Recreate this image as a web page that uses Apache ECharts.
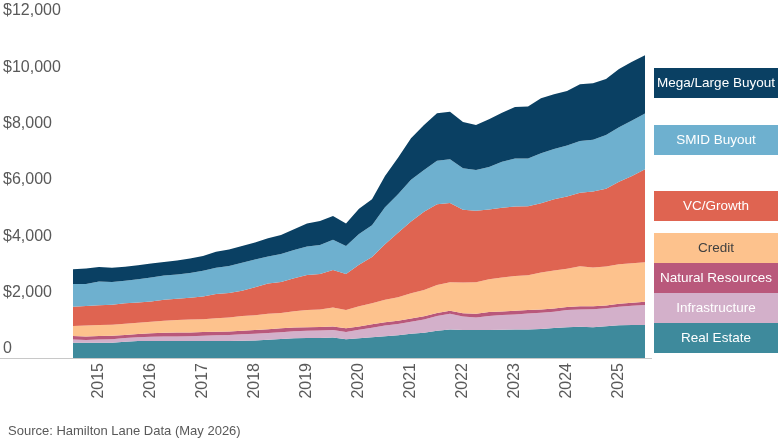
<!DOCTYPE html>
<html>
<head>
<meta charset="utf-8">
<script src="https://cdn.jsdelivr.net/npm/echarts@6/dist/echarts.min.js"></script>
<style>
  html, body { margin: 0; padding: 0; background: #fff; }
  #chart { width: 780px; height: 440px; }
</style>
</head>
<body>
<div id="chart"></div>
<script>
// quarters, Q4 2014 .. Q4 2025
var quarters = [];
for (var y = 2014; y <= 2025; y++) {
  for (var q = 1; q <= 4; q++) {
    if (y === 2014 && q < 4) continue;
    quarters.push('Q' + q + ' ' + y);
  }
}

var yTicks = [0, 2000, 4000, 6000, 8000, 10000, 12000];

// series values, US$ bn
var realEstate = [540,540,545,545,580,600,600,600,600,600,600,605,605,615,625,650,675,700,710,710,730,665,700,735,770,805,865,900,970,1015,995,995,995,1005,1015,1015,1030,1065,1090,1110,1090,1125,1160,1170,1170];
var infrastructure = [120,100,115,125,130,140,155,165,165,175,190,200,210,225,235,235,240,250,260,270,260,260,305,340,380,400,425,470,520,555,475,440,495,520,530,565,580,580,615,615,640,640,660,685,710];
var naturalResources = [120,120,120,120,110,110,120,130,140,130,130,130,130,130,130,140,140,130,120,120,130,130,115,120,120,120,110,110,110,110,120,140,140,130,130,120,110,110,110,110,110,100,110,110,120];
var credit = [355,390,390,390,400,400,415,425,440,460,460,475,495,520,530,545,545,580,615,625,675,650,720,745,795,830,900,935,995,1005,1090,1110,1170,1205,1240,1240,1315,1350,1350,1420,1370,1385,1395,1395,1395];
var vcGrowth = [685,700,700,710,720,720,720,745,755,770,805,865,865,900,995,1075,1100,1170,1240,1255,1325,1280,1470,1645,1975,2295,2545,2780,2865,2815,2580,2545,2470,2470,2460,2450,2460,2530,2565,2615,2700,2755,2935,3100,3310];
var smidBuyout = [805,780,850,805,805,830,850,865,865,885,910,925,960,995,980,960,995,1005,1015,1030,1075,995,1090,1125,1315,1360,1480,1480,1540,1560,1480,1445,1515,1635,1705,1690,1775,1785,1810,1835,1835,1915,1930,1975,1975];
var megaLargeBuyout = [530,545,510,510,495,495,495,475,495,510,530,570,590,590,605,650,675,735,815,850,850,795,900,925,1110,1300,1480,1595,1690,1680,1635,1595,1690,1740,1835,1845,1950,1940,1940,2010,2010,1985,2070,2080,2070];

var names = ['Real Estate', 'Infrastructure', 'Natural Resources', 'Credit', 'VC/Growth', 'SMID Buyout', 'Mega/Large Buyout'];
var values = [realEstate, infrastructure, naturalResources, credit, vcGrowth, smidBuyout, megaLargeBuyout];
var colors = ['#3e8a9c', '#d3b0ca', '#b9587b', '#fdc28d', '#df6451', '#6eb0cf', '#0a4063'];
var labelColors = ['#fff', '#fff', '#fff', '#404040', '#fff', '#fff', '#fff'];
var boxTops = [323, 293, 263, 233, 191, 125, 68];

var FONT = 'Liberation Sans, Arial, sans-serif';

var myChart = echarts.init(document.getElementById('chart'));

var series = names.map(function (n, i) {
  return {
    name: n,
    type: 'line',
    stack: 'total',
    data: values[i],
    symbol: 'none',
    lineStyle: { width: 0 },
    areaStyle: { color: colors[i], opacity: 1 },
    itemStyle: { color: colors[i] },
    z: 2
  };
});

// legend boxes on the right
var graphics = [
  { type: 'line', shape: { x1: 0, y1: 358.5, x2: 652, y2: 358.5 },
    style: { stroke: '#c8c8c8', lineWidth: 1 }, z: 10 }
];
names.forEach(function (n, i) {
  graphics.push({
    type: 'rect', left: 654, top: boxTops[i],
    shape: { width: 124, height: 30 },
    style: { fill: colors[i] }
  });
  graphics.push({
    type: 'text', x: 716, y: boxTops[i] + 15,
    style: { text: n, fill: labelColors[i], font: '13.5px ' + FONT,
             textAlign: 'center', textVerticalAlign: 'middle' }
  });
});

var option = {
  animation: false,
  textStyle: { fontFamily: FONT },
  title: {
    text: 'Source: Hamilton Lane Data (May 2026)',
    left: 3, top: 420,
    textStyle: { fontSize: 13, fontWeight: 'normal', color: '#595959', fontFamily: FONT }
  },
  grid: { left: 71, right: 135, top: 20, bottom: 82 },
  xAxis: {
    type: 'category',
    data: quarters,
    boundaryGap: false,
    axisLine: { show: false },
    axisTick: { show: false },
    axisLabel: {
      rotate: 90,
      margin: 5,
      fontSize: 16,
      color: '#595959',
      interval: 0,
      formatter: function (v) {
        return v.indexOf('Q2') === 0 ? v.slice(3) : '';
      }
    }
  },
  yAxis: {
    type: 'value',
    min: yTicks[0],
    max: yTicks[yTicks.length - 1],
    interval: 2000,
    splitLine: { show: false },
    axisLine: { show: false },
    axisTick: { show: false },
    axisLabel: {
      fontSize: 16,
      color: '#595959',
      align: 'left',
      verticalAlign: 'bottom',
      margin: 70,
      padding: [0, 0, 1, 0],
      formatter: function (v) {
        return v === 0 ? '0' : '$' + v.toLocaleString('en-US');
      }
    }
  },
  graphic: graphics,
  series: series
};

myChart.setOption(option);
</script>
</body>
</html>
